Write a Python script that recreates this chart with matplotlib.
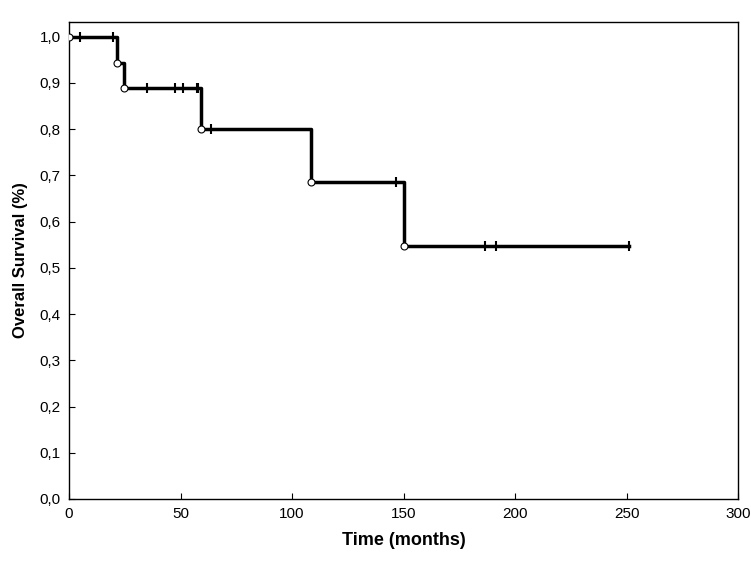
import numpy as np
import matplotlib
matplotlib.use("Agg")
import matplotlib.pyplot as plt
from matplotlib.ticker import FuncFormatter

plt.rcParams['font.family'] = ['Liberation Sans', 'DejaVu Sans']

# Kaplan-Meier steps
event_times = [0, 21.3, 24.7, 59.2, 108.4, 150.4]
survival = [1.0, 0.944, 0.889, 0.800, 0.686, 0.548]
end_time = 251.3

censor_times = [4.9, 19.7, 34.8, 47.5, 51.3, 57.3, 58.0, 63.5, 146.6, 186.4, 191.3, 251.3]

def surv_at(t):
    s = survival[0]
    for et, sv in zip(event_times, survival):
        if t >= et:
            s = sv
    return s

censor_surv = [surv_at(t) for t in censor_times]

fig = plt.figure(figsize=(7.51, 5.63), dpi=100)
ax = fig.add_axes([0.0919, 0.1137, 0.8908, 0.8473])

xs = event_times + [end_time]
ys = survival + [survival[-1]]
ax.step(xs, ys, where="post", color="black", linewidth=2.5, zorder=2)
ax.plot(censor_times, censor_surv, linestyle="none", marker="|", markersize=7,
        markeredgewidth=1.5, color="black", zorder=3)
ax.plot(event_times, survival, linestyle="none", marker="o", markersize=5,
        markerfacecolor="white", markeredgecolor="black", markeredgewidth=0.8, zorder=4)

ax.set_xlim(0, 300)
ax.set_ylim(0, 1.032)
ax.set_xticks(np.arange(0, 301, 50))
ax.set_yticks(np.arange(0, 1.01, 0.1))
ax.yaxis.set_major_formatter(FuncFormatter(lambda v, p: ("%.1f" % v).replace(".", ",")))
ax.tick_params(direction="in", length=4, width=0.8, labelsize=11, pad=6)
for sp in ax.spines.values():
    sp.set_linewidth(1)

ax.set_xlabel("Time (months)", fontsize=13, fontweight="bold", labelpad=8)
ax.set_ylabel("Overall Survival (%)", fontsize=12, fontweight="bold", labelpad=8)

fig.savefig("out.png", dpi=100)
